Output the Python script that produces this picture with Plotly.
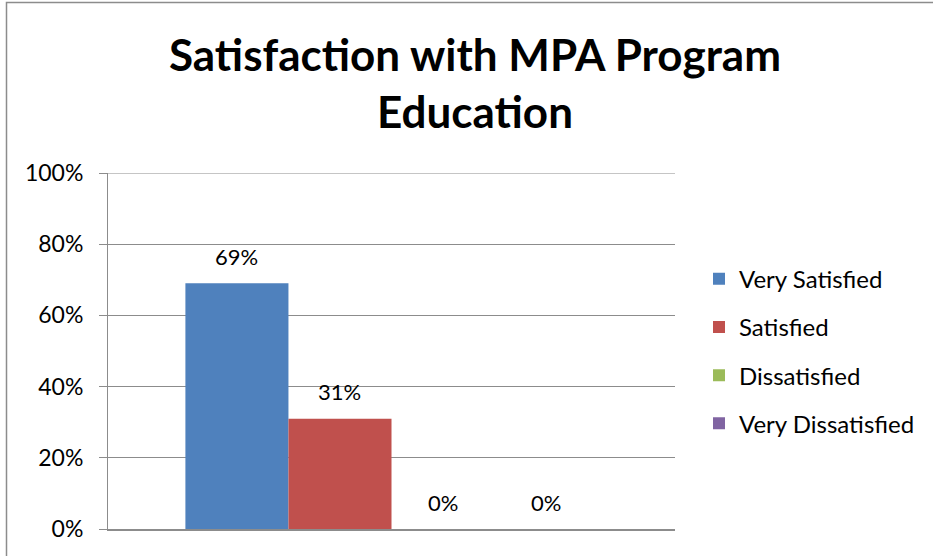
import plotly.graph_objects as go

# data
category = ["MPA Program Education"]
responses = ["Very Satisfied", "Satisfied", "Dissatisfied", "Very Dissatisfied"]
shares = [0.69, 0.31, 0.0, 0.0]
colors = ["#4F81BD", "#C0504D", "#9BBB59", "#8064A2"]

FONT = "Lato"
BARGAP = 0.273
PLOT_W = 567  # plot area width in px
GRID = "#8C8C8C"

fig = go.Figure()
for name, val, col in zip(responses, shares, colors):
    fig.add_trace(go.Bar(x=category,
                         y=[val],
                         name=name,
                         legendgroup=name,
                         marker=dict(color=col, line=dict(width=0))))

# data labels above each bar of the group
bar_px = PLOT_W * (1 - BARGAP) / len(responses)
for i, val in enumerate(shares):
    fig.add_annotation(x=category[0], y=val, xref="x", yref="y",
                       text=f"{val:.0%}", showarrow=False,
                       xshift=(i - (len(responses) - 1) / 2) * bar_px,
                       yshift=27, yanchor="middle",
                       font=dict(family=FONT, size=22, color="#000000"))

# chart title
fig.add_annotation(text="<b>Satisfaction with MPA Program<br>Education</b>",
                   xref="paper", yref="paper",
                   x=(475 - 108) / PLOT_W, y=(529 - 82) / 356,
                   xanchor="center", yanchor="middle", showarrow=False,
                   font=dict(family=FONT, size=44, color="#000000"))

fig.update_layout(
    width=933, height=556,
    margin=dict(l=108, r=258, t=173, b=27),
    paper_bgcolor="white",
    plot_bgcolor="white",
    barmode="group",
    bargap=BARGAP,
    bargroupgap=0,
    font=dict(family=FONT, color="#000000"),
    legend=dict(x=(699 - 108) / PLOT_W, xanchor="left", y=0.765, yanchor="top",
                font=dict(family=FONT, size=24, color="#000000"),
                tracegroupgap=14,
                bgcolor="rgba(0,0,0,0)"),
    showlegend=True,
)

# y axis: percent scale with gridlines
fig.update_yaxes(range=[0, 1],
                 tickvals=[0, 0.2, 0.4, 0.6, 0.8, 1.0],
                 tickformat=".0%",
                 showgrid=True, gridcolor=GRID, gridwidth=1,
                 showline=True, linecolor=GRID, linewidth=1,
                 ticks="outside", ticklen=8, tickcolor=GRID,
                 tickfont=dict(family=FONT, size=23, color="#000000"),
                 ticklabelstandoff=11,
                 zeroline=False)
fig.update_xaxes(showticklabels=False,
                 showline=True, linecolor=GRID, linewidth=2,
                 ticks="", showgrid=False)

# top gridline (plotly drops the one sitting on the plot edge)
fig.add_shape(type="line", xref="paper", yref="y", x0=0, x1=1, y0=1, y1=1,
              line=dict(color=GRID, width=1), layer="below")

# outer chart border, like the spreadsheet chart frame
fig.add_shape(type="rect", xref="paper", yref="paper",
              x0=(6.5 - 108) / PLOT_W, x1=1.8, y0=-0.3, y1=(529 - 2.5) / 356,
              line=dict(color=GRID, width=1.5), fillcolor="rgba(0,0,0,0)",
              layer="below")

fig.write_html("out.html", config={"displayModeBar": False},
               post_script="document.body.style.margin='0';")
